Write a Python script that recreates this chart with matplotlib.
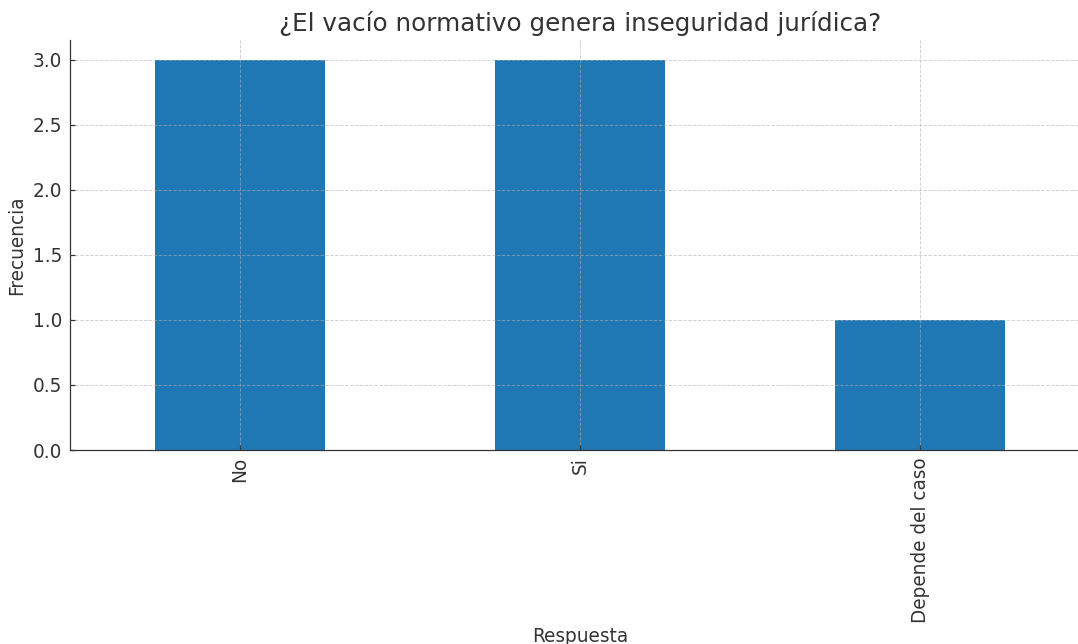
import matplotlib
matplotlib.use("Agg")
import matplotlib.pyplot as plt

plt.rcParams["font.family"] = ["DejaVu Sans"]

categories = ["No", "Si", "Depende del caso"]
values = [3, 3, 1]
title = "¿El vacío normativo genera inseguridad jurídica?"
xlabel = "Respuesta"
ylabel = "Frecuencia"

W, H, DPI = 1078, 644, 111
fig = plt.figure(figsize=(W / DPI, H / DPI), dpi=DPI)
txt = "#333333"
ax = fig.add_axes([70 / W, (H - 450) / H, (1090 - 70) / W, (450 - 40) / H])
x = list(range(len(categories)))
ax.bar(x, values, width=0.5, color="#1f77b4", zorder=2)
ax.set_xlim(-0.5, len(categories) - 0.5)
ax.set_ylim(0, 3.15)
ax.set_yticks([0, 0.5, 1.0, 1.5, 2.0, 2.5, 3.0])
ax.set_yticklabels(["0.0", "0.5", "1.0", "1.5", "2.0", "2.5", "3.0"])
ax.set_xticks(x)
ax.set_xticklabels(categories, rotation=90)
ax.set_axisbelow(False)
ax.grid(True, linestyle="--", color="#b0b0b0", alpha=0.6, linewidth=0.6)
for s in ["top", "right"]:
    ax.spines[s].set_visible(False)
for s in ["left", "bottom"]:
    ax.spines[s].set_color(txt)
ax.tick_params(colors=txt, labelsize=12, labelcolor=txt, direction="in")
ax.tick_params(axis="y", pad=5)
ax.tick_params(axis="x", pad=4.5)
ax.set_title(title, fontsize=16, color=txt, pad=6)
ax.set_xlabel(xlabel, fontsize=12, color=txt, labelpad=3)
ax.set_ylabel(ylabel, fontsize=12, color=txt)
fig.savefig("out.png", dpi=DPI)
